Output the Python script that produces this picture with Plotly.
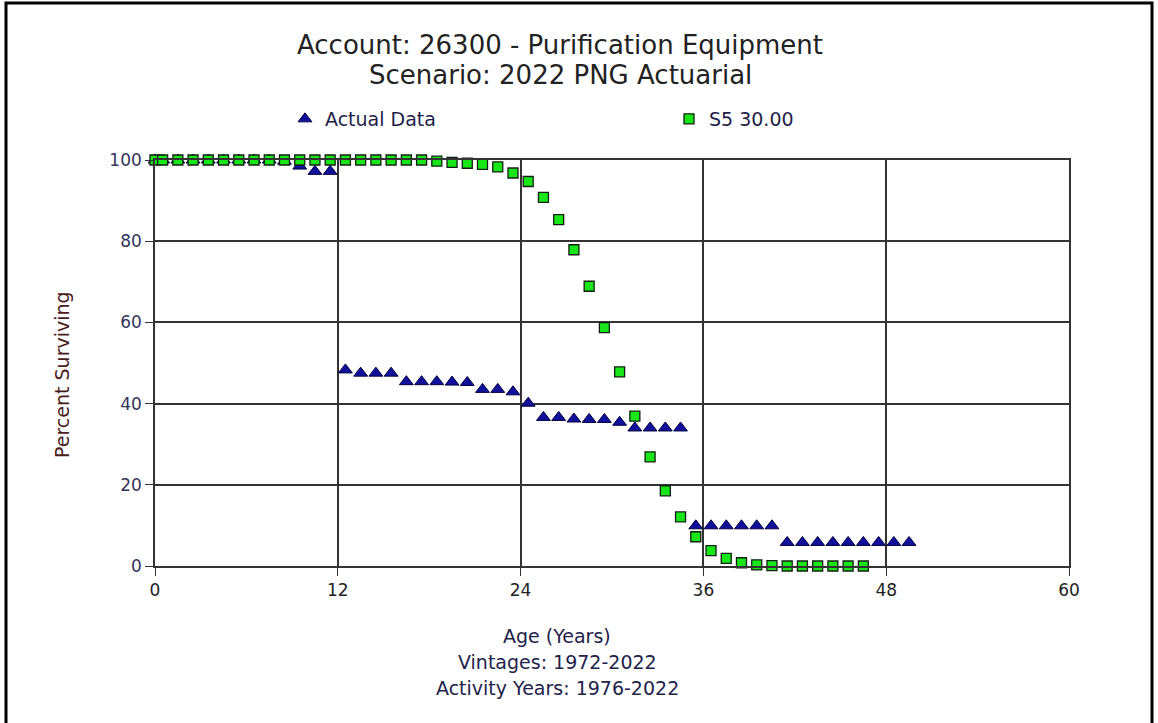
import plotly.graph_objects as go

# ---- data ----
actual_ages = [0] + [i + 0.5 for i in range(50)]
actual_pct = [100, 100, 100, 100, 100, 100, 100, 100, 100, 99.7,
              98.5, 97.2, 97.2,
              48.3, 47.5, 47.5, 47.5, 45.4, 45.4, 45.4, 45.3, 45.2,
              43.5, 43.5, 42.9, 40.1, 36.6, 36.6, 36.2, 36.1, 36.1,
              35.4, 34.0, 34.0, 34.0, 34.0,
              9.9, 9.9, 9.9, 9.9, 9.9, 9.9,
              5.8, 5.8, 5.8, 5.8, 5.8, 5.8, 5.8, 5.8, 5.8]

s5_ages = [0] + [i + 0.5 for i in range(47)]
s5_pct = [100] + [100] * 18 + [99.7, 99.4, 99.2, 98.9, 98.3, 96.8, 94.7, 90.8,
                               85.3, 77.9, 68.9, 58.7, 47.8, 36.9, 26.9, 18.5,
                               12.1, 7.2, 3.8, 1.9, 0.8, 0.3, 0.1] + [0] * 6

x_ticks = [0, 12, 24, 36, 48, 60]
y_ticks = [0, 20, 40, 60, 80, 100]

title_lines = ["Account: 26300 - Purification Equipment", "Scenario: 2022 PNG Actuarial"]
x_title_lines = ["Age (Years)", "Vintages: 1972-2022", "Activity Years: 1976-2022"]

FONT = "DejaVu Sans, Liberation Sans, Arial, sans-serif"
W, H = 1158, 723
L, R, T, B = 155, 1069, 160, 566
PW, PH = R - L, B - T


def px(xp):
    return (xp - L) / PW


def py(yp):
    return (B - yp) / PH


fig = go.Figure()
fig.add_trace(go.Scatter(
    x=actual_ages, y=actual_pct, mode="markers", name="Actual Data",
    marker=dict(symbol="triangle-up", size=12, color="#10109a",
                line=dict(color="#000040", width=1)),
    cliponaxis=False,
))
fig.add_trace(go.Scatter(
    x=s5_ages, y=s5_pct, mode="markers", name="S5 30.00",
    marker=dict(symbol="square", size=10, color="#19e619",
                line=dict(color="#102010", width=1.3)),
    cliponaxis=False,
))

axis_common = dict(
    showline=True, linecolor="#333333", linewidth=1.6, mirror=True,
    showgrid=True, gridcolor="#333333", gridwidth=1.6,
    zeroline=False, ticks="outside", ticklen=8, tickcolor="#333333", tickwidth=1.4,
)

fig.update_layout(
    width=W, height=H,
    margin=dict(l=L, r=W - R, t=T, b=H - B),
    paper_bgcolor="white", plot_bgcolor="white",
    font=dict(family=FONT, color="#222222"),
    xaxis=dict(range=[0, 60], tickvals=x_ticks, tickfont=dict(size=17, color="#222222"),
               **axis_common),
    yaxis=dict(range=[0, 100], tickvals=y_ticks, tickfont=dict(size=17, color="#34345a"),
               **axis_common),
    legend=dict(orientation="h", x=px(285), xanchor="left", y=py(100), yanchor="top",
                font=dict(size=19, color="#1e1e48"), entrywidth=339, entrywidthmode="pixels",
                itemwidth=30, bgcolor="rgba(0,0,0,0)", tracegroupgap=0),
    showlegend=True,
)

for i, line in enumerate(title_lines):
    fig.add_annotation(text=line, x=px(560), y=py(45 + 30 * i), xref="paper", yref="paper",
                       showarrow=False, xanchor="center", yanchor="middle",
                       font=dict(size=26, color="#222222", family=FONT))

fig.add_annotation(text="Percent Surviving", x=px(62), y=py(375), xref="paper", yref="paper",
                   textangle=-90, showarrow=False, xanchor="center", yanchor="middle",
                   font=dict(size=19, color="#4a1c1c", family=FONT))

for i, line in enumerate(x_title_lines):
    fig.add_annotation(text=line, x=px(557), y=py(636 + 26 * i), xref="paper", yref="paper",
                       showarrow=False, xanchor="center", yanchor="middle",
                       font=dict(size=19, color="#22224a", family=FONT))

# outer frame
fig.add_shape(type="rect", xref="paper", yref="paper",
              x0=px(6), x1=px(1152), y0=py(740), y1=py(3),
              line=dict(color="black", width=3), fillcolor="rgba(0,0,0,0)", layer="below")

fig.write_html("out.html", config={"displayModeBar": False},
               post_script="document.body.style.margin='0px';")
